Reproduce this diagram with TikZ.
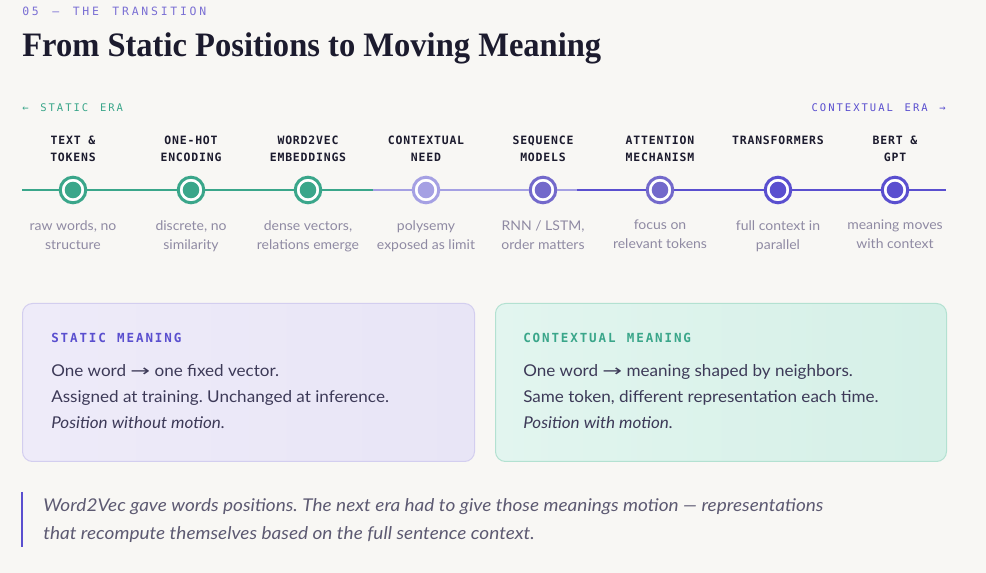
\documentclass[tikz,border=0pt]{standalone}
\usepackage{fontspec}
\usetikzlibrary{calc,positioning}
\setmainfont[FakeStretch=1.05]{Lato}
\newfontfamily\quotefont[FakeStretch=1.08]{Lato}
\newfontfamily\kickerfont[LetterSpace=24,WordSpace=1.4]{DejaVu Sans Mono}
\newfontfamily\erafont[LetterSpace=19,WordSpace=1.4]{DejaVu Sans Mono}
\newfontfamily\stagefont[LetterSpace=7]{DejaVu Sans Mono}
\newfontfamily\boxheadfont[LetterSpace=15,WordSpace=1.2]{DejaVu Sans Mono}
\newfontfamily\titlefont[FakeStretch=0.95]{Liberation Serif}
\newfontfamily\arrowfont{DejaVu Sans}

\definecolor{paper}{HTML}{F8F7F4}
\definecolor{ink}{HTML}{1C1B2E}
\definecolor{kicker}{HTML}{7A6FD4}
\definecolor{eragreen}{HTML}{3AA68A}
\definecolor{needpurple}{HTML}{A5A0E3}
\definecolor{seqpurple}{HTML}{7369CB}
\definecolor{ctxpurple}{HTML}{5A4FCF}
\definecolor{muted}{HTML}{8F8AA3}
\definecolor{boxink}{HTML}{3D3A58}
\definecolor{quoteink}{HTML}{5D5A72}
\definecolor{lavenderline}{HTML}{D3CEEF}
\definecolor{lavenderA}{HTML}{EEEBF9}
\definecolor{lavenderB}{HTML}{E8E5F6}
\definecolor{mintline}{HTML}{B3E1D1}
\definecolor{mintA}{HTML}{E2F5EF}
\definecolor{mintB}{HTML}{D5F0E7}

\newcommand{\wordarrow}{{\arrowfont\scalebox{1.45}[1]{→}}}
\newcommand{\boxhead}[2]{{\color{#1}\boxheadfont\bfseries\fontsize{9.4pt}{12pt}\selectfont #2}}

\begin{document}
\frenchspacing
\begin{tikzpicture}[x=0.75pt,y=-0.75pt,
  stage/.style={circle,draw=#1,fill=white,line width=2.25pt,minimum size=19.2pt,inner sep=0pt,
    path picture={\fill[#1] (path picture bounding box.center) circle[radius=6.2pt];}},
  stagehead/.style={anchor=north,align=center,inner sep=0pt,text=ink,
    font=\stagefont\bfseries\fontsize{8.6pt}{12.75pt}\selectfont},
  stagedesc/.style={anchor=north,align=center,inner sep=0pt,text=muted,
    font=\fontsize{10pt}{14.25pt}\selectfont},
  track/.style={line width=1.5pt,draw=#1},
  era/.style={inner sep=0pt,text=#1,font=\erafont\fontsize{7.9pt}{9pt}\selectfont},
  meaningbox/.style={anchor=north west,rounded corners=7.5pt,line width=0.75pt,
    minimum height=118.5pt,inner sep=0pt},
  boxtext/.style={anchor=north west,inner sep=0pt,align=left,text=boxink,
    font=\fontsize{12.2pt}{19.5pt}\selectfont}
]
\useasboundingbox (0,0) rectangle (986,573);
\fill[paper] (0,0) rectangle (986,573);

\node[anchor=base west,inner sep=0pt,text=kicker,font=\kickerfont\fontsize{8.6pt}{10pt}\selectfont]
  (kicker) at (22,15.7) {05 — THE TRANSITION};
\node[anchor=base west,inner sep=0pt,text=ink,font=\titlefont\bfseries\fontsize{25.7pt}{30pt}\selectfont]
  (title) at (22,56.5) {From Static Positions to Moving Meaning};

\node[era=eragreen,anchor=base west] (static-era) at (22,112) {← STATIC ERA};
\node[era=ctxpurple,anchor=base east] (context-era) at (946,112) {CONTEXTUAL ERA →};

% timeline stages
\foreach \i/\x/\col/\head/\desc in {
  1/73/eragreen/{TEXT \&\\TOKENS}/{raw words, no\\structure},
  2/191/eragreen/{ONE-HOT\\ENCODING}/{discrete, no\\similarity},
  3/308/eragreen/{WORD2VEC\\EMBEDDINGS}/{dense vectors,\\relations emerge},
  4/426/needpurple/{CONTEXTUAL\\NEED}/{polysemy\\exposed as limit},
  5/543/seqpurple/{SEQUENCE\\MODELS}/{RNN / LSTM,\\order matters},
  6/660/seqpurple/{ATTENTION\\MECHANISM}/{focus on\\relevant tokens},
  7/778/ctxpurple/{TRANSFORMERS}/{full context in\\parallel},
  8/895/ctxpurple/{BERT \&\\GPT}/{meaning moves\\with context}}{
  \node[stage=\col] (s\i) at (\x,190) {};
  \node[stagehead] (h\i) at ($(s\i)+(0,-54)$) {\head};
  \node[stagedesc] (d\i) at ($(s\i)+(0,30)$) {\desc};
}

\coordinate (tl-start) at (22,190);
\coordinate (tl-a) at (373,190);
\coordinate (tl-b) at (577,190);
\coordinate (tl-end) at (946,190);
\draw[track=eragreen] (tl-start) -- (s1) (s1) -- (s2) (s2) -- (s3) (s3) -- (tl-a);
\draw[track=needpurple] (tl-a) -- (s4) (s4) -- (s5) (s5) -- (tl-b);
\draw[track=ctxpurple] (tl-b) -- (s6) (s6) -- (s7) (s7) -- (s8) (s8) -- (tl-end);

\node[meaningbox,minimum width=339pt,draw=lavenderline,left color=lavenderA,right color=lavenderB]
  (static-box) at (22,303) {};
\node[boxtext] (static-text) at ($(static-box.north west)+(29,30)$)
  {\boxhead{ctxpurple}{STATIC MEANING}\\[6pt]
   One word \wordarrow{} one fixed vector.\\
   Assigned at training. Unchanged at inference.\\
   \textit{Position without motion.}};
\node[meaningbox,minimum width=338.25pt,draw=mintline,left color=mintA,right color=mintB]
  (context-box) at (495,303) {};
\node[boxtext] (context-text) at ($(context-box.north west)+(28,30)$)
  {\boxhead{eragreen}{CONTEXTUAL MEANING}\\[6pt]
   One word \wordarrow{} meaning shaped by neighbors.\\
   Same token, different representation each time.\\
   \textit{Position with motion.}};

\draw[ctxpurple,line width=1.5pt] (22,492) -- (22,547);
\node[anchor=north west,inner sep=0pt,align=left,text=quoteink,
  font=\quotefont\itshape\fontsize{13.2pt}{21pt}\selectfont] (quote) at (43,498.5)
  {Word2Vec gave words positions. The next era had to give those meanings motion — representations\\
   that recompute themselves based on the full sentence context.};
\end{tikzpicture}
\end{document}
